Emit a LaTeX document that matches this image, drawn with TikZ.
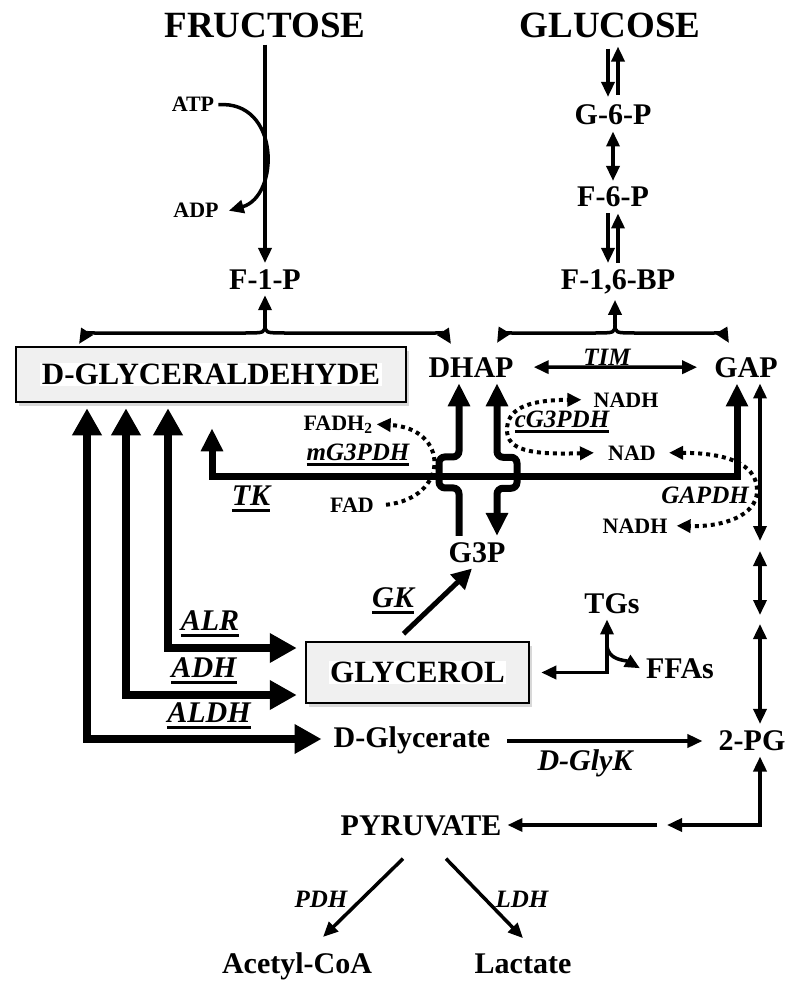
\documentclass[tikz,border=0pt]{standalone}
\usepackage{fontspec}
\setmainfont{Liberation Serif}
\usetikzlibrary{arrows.meta,shadows}
\setlength{\fboxsep}{1.5pt}

% underlined enzyme names
\newcommand{\enzul}[1]{\setbox0\hbox{#1}\leavevmode\rlap{\rule[-0.22em]{\wd0}{0.09em}}\box0}

\tikzset{
  sugar/.style={anchor=base, inner sep=6pt, font=\fontsize{37}{42}\selectfont\bfseries},
  metab/.style={anchor=base, inner sep=6pt, font=\fontsize{30}{36}\selectfont\bfseries},
  cofac/.style={anchor=base, inner sep=4pt, font=\fontsize{22}{26}\selectfont\bfseries},
  enz/.style={anchor=base, inner sep=3pt, font=\fontsize{30}{36}\selectfont\bfseries\itshape},
  enzs/.style={anchor=base, inner sep=3pt, font=\fontsize{25}{29}\selectfont\bfseries\itshape},
  pool/.style={metab, anchor=center, inner sep=0pt, draw, line width=2.5pt, fill=gray!12,
    drop shadow={shadow xshift=3pt, shadow yshift=-4pt, fill=gray!60},
    font=\fontsize{31}{36}\selectfont\bfseries},
  rx/.style={line width=3.5pt, >={Triangle[length=15pt,width=13pt]}},
  fat/.style={line width=7pt, >={Triangle[length=23pt,width=21pt]}},
  fatter/.style={line width=8pt, >={Triangle[length=27pt,width=28pt]}},
  redox/.style={line width=4pt, dash pattern=on 4pt off 4pt, >={Triangle[length=14pt,width=13pt]}},
}

\begin{document}
\begin{tikzpicture}[x=1pt,y=-1pt]
\useasboundingbox (0,0) rectangle (800,984);

% boxes first, so the arrows sit on their shadows
\node[pool, minimum width=390pt, minimum height=55pt] (dgl) at (211,374.5) {\colorbox{white}{D-GLYCERALDEHYDE}};
\node[pool, minimum width=223pt, minimum height=61pt] (gly) at (417.5,672.5) {\colorbox{white}{GLYCEROL}};

% sugars and intermediates
\node[sugar] (fru) at (265,38) {FRUCTOSE};
\node[sugar] (glc) at (610,38) {GLUCOSE};
\node[cofac] (atp) at (193,112) {ATP};
\node[cofac] (adp) at (196,218) {ADP};
\node[metab] (f1p) at (265,289) {F-1-P};
\node[metab] (g6p) at (613,125) {G-6-P};
\node[metab] (f6p) at (613,207) {F-6-P};
\node[metab] (fbp) at (618,289) {F-1,6-BP};
\node[metab] (dhap) at (471,377) {DHAP};
\node[metab] (gap) at (746,377) {GAP};
\node[enzs] (tim) at (607,365) {TIM};
\node[cofac] (nadha) at (626,407) {NADH};
\node[enzs] (cgpd) at (562,427) {\enzul{cG3PDH}};
\node[cofac] (nada) at (632,460) {NAD};
\node[cofac] (fadh) at (338,430) {FADH\textsubscript{2}};
\node[enzs] (mgpd) at (358,460) {\enzul{mG3PDH}};
\node[cofac] (fad) at (352,512) {FAD};
\node[enz] (tk) at (251,505) {\enzul{TK}};
\node[enzs] (gapdh) at (705,503) {GAPDH};
\node[cofac] (nadhb) at (635,533) {NADH};
\node[metab] (g3p) at (477,562) {G3P};
\node[enz] (gk) at (393,607) {\enzul{GK}};
\node[metab] (tgs) at (612,613) {TGs};
\node[metab] (ffa) at (680,678) {FFAs};
\node[enz] (alr) at (210,630) {\enzul{ALR}};
\node[enz] (adh) at (204,677) {\enzul{ADH}};
\node[enz] (aldh) at (209,722) {\enzul{ALDH}};
\node[metab] (dgc) at (412,747) {D-Glycerate};
\node[enz] (glyk) at (585,770) {D-GlyK};
\node[metab] (pg) at (752,750) {2-PG};
\node[metab] (pyr) at (421,835) {PYRUVATE};
\node[enzs] (pdh) at (321,907) {PDH};
\node[enzs] (ldh) at (522,907) {LDH};
\node[metab] (aco) at (297,973) {Acetyl-CoA};
\node[metab] (lac) at (523,973) {Lactate};

% fructose side
\draw[rx,->] (fru) -- (f1p);
\draw[rx,->] (atp.east) .. controls (280,100) and (280,196) .. ([xshift=6pt]adp.east);
\coordinate (fj) at (265,324);
\coordinate (fl) at (79,344);
\coordinate (fr) at (451,344);
\draw[rx,->] (fj) -- (f1p);
\draw[rx,->] (fj) .. controls (265,333) .. (243,333) -- (98,333) .. controls (86,333) .. (fl);
\draw[rx,->] (fj) .. controls (265,333) .. (287,333) -- (432,333) .. controls (444,333) .. (fr);

% glucose side
\draw[rx,->,shorten <=4pt,shorten >=2pt] ([xshift=-5pt]g6p.north |- glc.south) -- ([xshift=-5pt]g6p.north);
\draw[rx,<-,shorten <=2pt,shorten >=4pt] ([xshift=5pt]g6p.north |- glc.south) -- ([xshift=5pt]g6p.north);
\draw[rx,<->] (g6p) -- (f6p);
\draw[rx,->] ([xshift=-5pt]f6p.south) -- ([xshift=-5pt]f6p.south |- fbp.north);
\draw[rx,<-] ([xshift=5pt]f6p.south) -- ([xshift=5pt]f6p.south |- fbp.north);
\coordinate (bj) at (615,324);
\coordinate (bl) at (497,343);
\coordinate (br) at (729,343);
\draw[rx,->] (bj) -- (bj |- fbp.south);
\draw[rx,->] (bj) .. controls (615,333) .. (593,333) -- (513,333) .. controls (503,333) .. (bl);
\draw[rx,->] (bj) .. controls (615,333) .. (637,333) -- (713,333) .. controls (723,333) .. (br);
\draw[rx,<->] ([xshift=14pt]dhap.east) -- ([xshift=-11pt]gap.west);

% G3P shuttle, bridged over the TK line
\draw[fat,->,rounded corners=6pt] ([xshift=-18pt]g3p.north) -- ++(0,-48) -- ++(-20,0) -- ++(0,-31) -- ++(20,0) -- ([xshift=-12pt]dhap.south);
\draw[fat,<->,rounded corners=6pt] ([xshift=26pt]dhap.south) -- ++(0,74) -- ++(20,0) -- ++(0,31) -- ++(-20,0) -- ([xshift=20pt]g3p.north);
\draw[fat,<->] ([shift={(1pt,-25pt)}]dgl.south) |- ++(525,48) -- ([xshift=-9pt]gap.south);

% cofactors
\draw[redox,->] ([xshift=8pt]fad.east) .. controls (450,498) and (450,428) .. (fadh.east);
\draw[redox,<->] ([xshift=-10pt]nada.west) .. controls (530,455) and (507,450) .. (507,430)
  .. controls (507,410) and (525,400) .. ([xshift=-8pt]nadha.west);
\draw[redox,<->] ([xshift=9pt]nada.east) .. controls (735,453) and (758,468) .. (757,492)
  .. controls (756,515) and (725,527) .. ([xshift=5pt]nadhb.east);

% lower glycolysis
\coordinate (sa) at (760,541);
\coordinate (sb) at (760,551);
\coordinate (sc) at (760,615);
\coordinate (sd) at (760,624);
\draw[rx,<->] ([xshift=14pt]gap.south) -- (sa);
\draw[rx,<->] (sb) -- (sc);
\draw[rx,<->] (sd) -- (sd |- pg.north);
\coordinate (pa) at (667,825);
\coordinate (pb) at (657,825);
\draw[rx,<->] (pa) -| (sd |- pg.south);
\draw[rx,->] (pb) -- (pb -| pyr.east);
\draw[rx,->] ([shift={(-18pt,-17pt)}]pyr.south) -- ([shift={(26pt,9pt)}]aco.north);
\draw[rx,->] ([shift={(25pt,-17pt)}]pyr.south) -- ([yshift=9pt]lac.north);

% glyceraldehyde routes
\draw[fatter,<->] ([shift={(-43pt,-5pt)}]dgl.south) |- ([shift={(-8pt,24.5pt)}]gly.west);
\draw[fatter,<->] ([shift={(-85pt,-5pt)}]dgl.south) |- ([shift={(-8pt,-22.5pt)}]gly.west);
\draw[fatter,<->] ([shift={(-124pt,-5pt)}]dgl.south) |- ([shift={(-6pt,8pt)}]dgc.base west);
\draw[rx,->,line width=5pt,>={Triangle[length=20pt,width=20pt]}] ([shift={(-14pt,7pt)}]gly.north) -- ([xshift=-5pt]g3p.south);
\draw[rx,<->] ([xshift=-5pt]tgs.south) |- ([xshift=11pt]gly.east);
\draw[rx,->] ([shift={(-5pt,-25pt)}]tgs.south) .. controls +(0,16) and +(-14,-8) .. (ffa.west);
\draw[rx,->] ([shift={(11pt,6pt)}]dgc.base east) -- ([shift={(-10pt,9pt)}]pg.base west);

\end{tikzpicture}
\end{document}
